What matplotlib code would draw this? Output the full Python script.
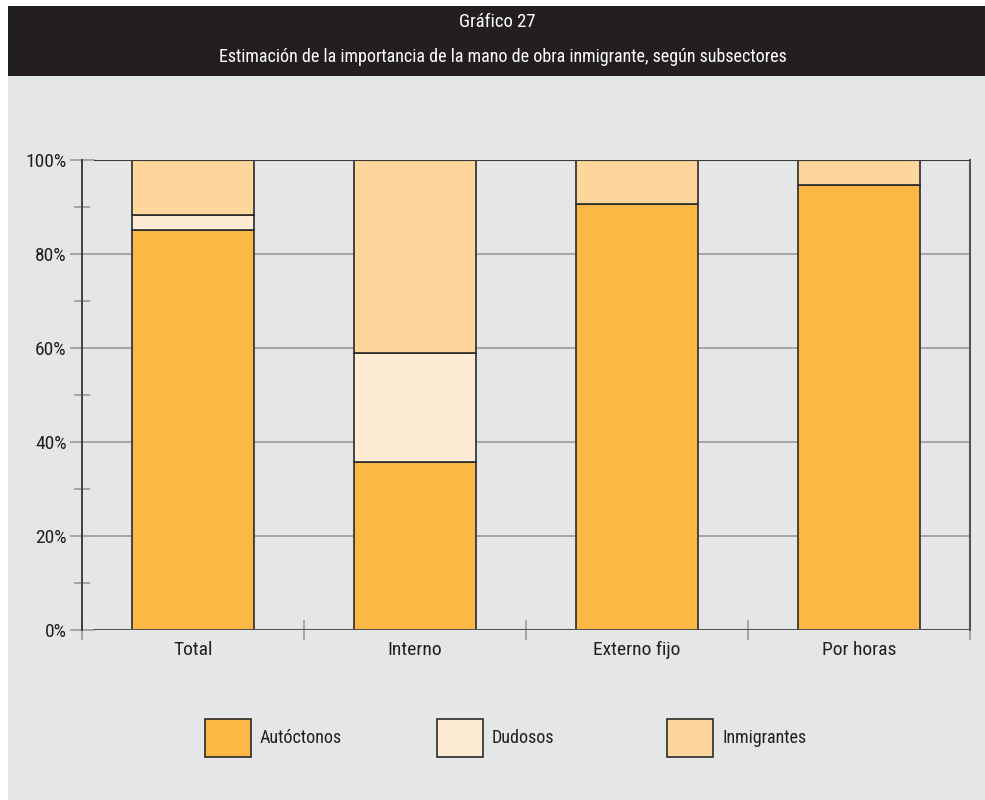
import matplotlib
matplotlib.use("Agg")
import matplotlib.pyplot as plt
from matplotlib import font_manager
from matplotlib.patches import Rectangle
from matplotlib.ticker import MultipleLocator, FixedLocator, NullFormatter
import numpy as np

available = {f.name for f in font_manager.fontManager.ttflist}
chosen = "DejaVu Sans"
for cand in ["Roboto Condensed", "Asap Condensed", "Barlow Condensed", "Liberation Sans Narrow"]:
    if cand in available:
        chosen = cand
        break
plt.rcParams['font.family'] = [chosen, 'DejaVu Sans']

categories = ["Total", "Interno", "Externo fijo", "Por horas"]
series_names = ["Autóctonos", "Dudosos", "Inmigrantes"]
autoctonos = [85.1, 35.7, 90.6, 94.7]
dudosos = [3.2, 23.2, 0.0, 0.0]
inmigrantes = [11.7, 41.1, 9.4, 5.3]
colors = ["#fbb845", "#fdebd3", "#fed59a"]
title_lines = ["Gráfico 27", "Estimación de la importancia de la mano de obra inmigrante, según subsectores"]

W, H = 985, 800
fig = plt.figure(figsize=(W / 100, H / 100), dpi=100)
fig.patch.set_facecolor("white")

def fx(px):
    return px / W

def fy(py):
    return 1 - py / H

# background panel and header
fig.patches.append(Rectangle((fx(8), 0), 1 - fx(8), fy(6), transform=fig.transFigure,
                             facecolor="#e5e6e8", edgecolor="none", zorder=-2))
fig.patches.append(Rectangle((fx(8), fy(76)), 1 - fx(8), fy(6) - fy(76), transform=fig.transFigure,
                             facecolor="#231f20", edgecolor="none", zorder=-1))
fig.text(fx(497), fy(22), title_lines[0], color="white", fontsize=13.5, ha="center", va="center")
fig.text(fx(503), fy(57), title_lines[1], color="white", fontsize=13, ha="center", va="center")

ax = fig.add_axes([fx(82), fy(630), fx(970) - fx(82), fy(160) - fy(630)])
ax.set_facecolor("none")
ax.set_zorder(5)

x = np.arange(len(categories))
width = 0.55
series = [autoctonos, dudosos, inmigrantes]
bottom = np.zeros(len(categories))
for vals, c, name in zip(series, colors, series_names):
    vals = np.array(vals)
    ax.bar(x, vals, width, bottom=bottom, color=c, edgecolor="#2a2a2a", linewidth=1.2,
           label=name, zorder=3)
    bottom += vals

ax.set_xlim(-0.5, 3.5)

off = 13 / 888
for yv in [20, 40, 60, 80]:
    ax.axhline(yv, xmin=off, xmax=1, color="#9a9a9a", linewidth=1.2, zorder=1)
ax.axhline(100, xmin=off, xmax=1, color="#3a3a3a", linewidth=1.5, zorder=4)
ax.axhline(0, xmin=off, xmax=1, color="#555555", linewidth=1.5, zorder=4)

for s in ["top", "bottom"]:
    ax.spines[s].set_visible(False)
ax.spines["left"].set_color("#333333")
ax.spines["left"].set_linewidth(1.3)
ax.spines["right"].set_color("#555555")
ax.spines["right"].set_linewidth(1.5)

yt = [0, 20, 40, 60, 80, 100]
ax.set_yticks(yt)
ax.set_yticklabels([f"{v}%" for v in yt])
ax.yaxis.set_minor_locator(MultipleLocator(10))
ax.set_ylim(0, 100)
ax.tick_params(axis="y", which="major", direction="inout", length=18, width=1.2,
               color="#9a9a9a", labelsize=14, pad=2, labelcolor="#231f20")
ax.tick_params(axis="y", which="minor", direction="inout", length=12, width=1.2, color="#9a9a9a")

ax.xaxis.set_major_locator(FixedLocator([-0.5, 0.5, 1.5, 2.5, 3.5]))
ax.xaxis.set_major_formatter(NullFormatter())
ax.xaxis.set_minor_locator(FixedLocator(x))
ax.set_xticklabels(categories, minor=True)
ax.tick_params(axis="x", which="major", direction="inout", length=14, width=1.2, color="#9a9a9a")
ax.tick_params(axis="x", which="minor", length=0, labelsize=14, pad=8, labelcolor="#231f20")

# legend
box_x = [205, 437, 667]
for bx, c, name in zip(box_x, colors, series_names):
    fig.patches.append(Rectangle((fx(bx), fy(757)), fx(46), fy(719) - fy(757), transform=fig.transFigure,
                                 facecolor=c, edgecolor="#2a2a2a", linewidth=1.2, zorder=2))
    fig.text(fx(bx + 55), fy(738), name, fontsize=13, ha="left", va="center", color="#231f20")

fig.savefig("out.png", dpi=100, facecolor=fig.get_facecolor())
